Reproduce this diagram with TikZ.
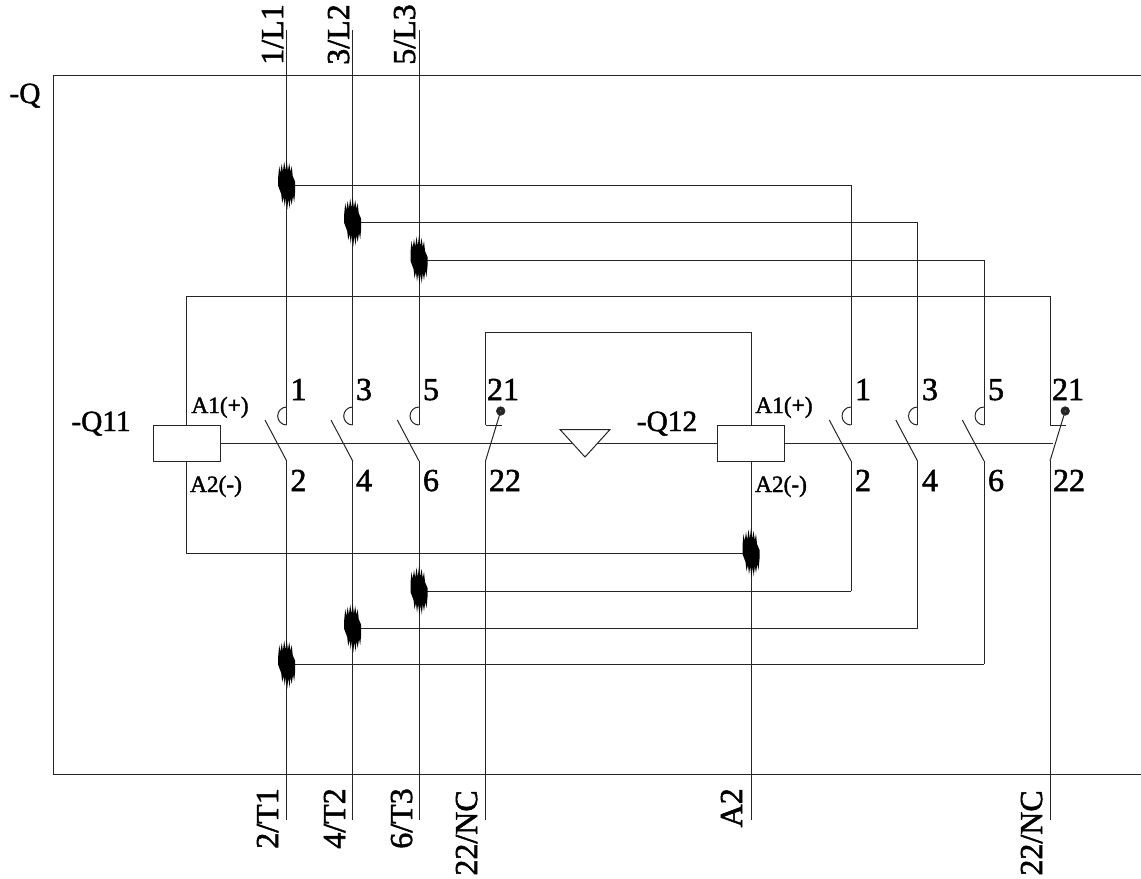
\documentclass[tikz,border=0pt]{standalone}
\usepackage{fontspec}
\setmainfont[FakeBold=1.6]{Liberation Serif}
\begin{document}
\begin{tikzpicture}[x=.75pt,y=-.75pt,
  wire/.style={line width=.75pt,color=black!85},
  coil/.style={draw=black!85,line width=.75pt,rectangle,minimum width=50pt,minimum height=27.4pt,inner sep=0pt},
  num/.style={font=\fontsize{24}{24}\selectfont,inner sep=0pt,anchor=base},
  term/.style={font=\fontsize{17.5}{18}\selectfont,inner sep=0pt,anchor=base},
  tag/.style={font=\fontsize{22}{24}\selectfont,inner sep=0pt,anchor=base},
  vtop/.style={font=\fontsize{24}{24}\selectfont,inner sep=0pt,rotate=90,anchor=base west},
  vbot/.style={font=\fontsize{24}{24}\selectfont,inner sep=0pt,rotate=90,anchor=base east},
  pics/bush/.style={code={
    \fill[black] (-8.5,-8) -- (-7.5,-19) -- (-6.3,-12) -- (-5,-21) -- (-3.8,-13) -- (-2.5,-23.5) -- (-1.2,-14)
      -- (0,-24.5) -- (1.2,-14) -- (2.5,-22) -- (3.8,-13) -- (5,-19) -- (6,-9) -- (8.5,-3) -- (8.5,6)
      -- (7.5,17) -- (6.3,11) -- (5,20) -- (3.8,13) -- (2.8,23.5) -- (1.6,14) -- (.5,24.5) -- (-.8,13) -- (-2,21.5)
      -- (-3,12) -- (-4.5,18) -- (-5.5,9) -- (-8.5,1) -- cycle;
  }}]
\useasboundingbox (0,0) rectangle (1141,878);
% frame
\coordinate (fa) at (1141,75);
\coordinate (fb) at (53,75);
\coordinate (fc) at (53,774);
\coordinate (fd) at (1141,774);
\draw[wire] (fa) -- (fb) -- (fc) -- (fd);
% poles: name / x / top / bottom
\foreach \n/\x/\t/\b in {a/286.7/30/820,b/352.7/30/820,c/419/30/820,d/485.5/332/820,
                         e/851/185/591,f/917.5/222/628,g/984/260/664,h/1050/296/820}{
  \coordinate (s\n) at (\x,\t);
  \coordinate (u\n) at (\x,425);
  \coordinate (l\n) at (\x,461);
  \coordinate (e\n) at (\x,\b);
  \draw[wire] (s\n) -- (u\n);
  \draw[wire] (l\n) -- (e\n);
}
% main contacts
\foreach \n/\x in {a/286.7,b/352.7,c/419,e/851,f/917.5,g/984}{
  \coordinate (o\n) at (\x-21.7,420);
  \coordinate (w\n) at (\x,407);
  \draw[wire] (l\n) -- (o\n);
  \draw[wire] (w\n) arc[start angle=-90,end angle=-270,radius=9];
}
% auxiliary contacts
\foreach \n/\x in {d/485.5,h/1050}{
  \node[circle,fill=black!85,draw=black!85,minimum size=6.5pt,inner sep=0pt] (dot\n) at (\x+15.2,411) {};
  \coordinate (v\n) at (\x+16,425);
  \draw[wire] (u\n) -- (v\n);
  \draw[wire] (l\n) -- (dot\n.center);
  \fill[black!45] (dot\n.center) circle[radius=.6];
}
% coils
\node[coil] (Q11) at (186.7,443.3) {};
\node[coil] (Q12) at (751,443.3) {};
\coordinate (q1) at (186.7,296);
\coordinate (q2) at (186.7,553);
\coordinate (r1) at (751,332);
\coordinate (r2) at (751,820);
\coordinate (jq) at (751,553);
\draw[wire] (Q11.north) -- (q1) -- (sh);
\draw[wire] (Q11.south) -- (q2) -- (jq);
\draw[wire] (Q12.north) -- (r1) -- (sd);
\draw[wire] (Q12.south) -- (r2);
% mechanical link
\coordinate (lk) at (1053,443.3);
\draw[wire] (Q11.east) -- (Q12.west);
\draw[wire] (Q12.east) -- (lk);
\coordinate (t1) at (560,429.5);
\coordinate (t2) at (610,429.5);
\coordinate (t3) at (585,457);
\draw[wire,fill=white] (t1) -- (t2) -- (t3) -- cycle;
% cross connections
\draw[wire] (sa |- se) -- (se);
\draw[wire] (sb |- sf) -- (sf);
\draw[wire] (sc |- sg) -- (sg);
\draw[wire] (sc |- ee) -- (ee);
\draw[wire] (sb |- ef) -- (ef);
\draw[wire] (sa |- eg) -- (eg);
\pic at (sa |- se) {bush};
\pic at (sb |- sf) {bush};
\pic at (sc |- sg) {bush};
\pic at (jq) {bush};
\pic at (sc |- ee) {bush};
\pic at (sb |- ef) {bush};
\pic at (sa |- eg) {bush};
% labels
\node[vtop] (L1) at (283,65) {1/L1};
\node[vtop] (L2) at (349,65) {3/L2};
\node[vtop] (L3) at (415,65) {5/L3};
\node[vbot] (T1) at (278,788) {2/T1};
\node[vbot] (T2) at (345,788) {4/T2};
\node[vbot] (T3) at (412,788) {6/T3};
\node[vbot] (N1) at (477,790) {22/NC};
\node[vbot] (A2b) at (742,788) {A2};
\node[vbot] (N2) at (1042,790) {22/NC};
\node[tag] (Q) at (25,103) {-Q};
\node[tag] (tq11) at (101,431) {-Q11};
\node[tag] (tq12) at (667,431) {-Q12};
\node[term] (a11) at (220,413) {A1(+)};
\node[term] (a21) at (216,492) {A2(-)};
\node[term] (a12) at (784,413) {A1(+)};
\node[term] (a22) at (781,492) {A2(-)};
\foreach \x/\l/\m in {298.5/1/n1,364/3/n2,431/5/n3,503/21/n4,863/1/n5,930/3/n6,996/5/n7,1068/21/n8}
  \node[num] (\m) at (\x,400) {\l};
\foreach \x/\l/\m in {298.5/2/m1,364/4/m2,431/6/m3,505/22/m4,863/2/m5,930/4/m6,996/6/m7,1069/22/m8}
  \node[num] (\m) at (\x,491) {\l};
\end{tikzpicture}
\end{document}
